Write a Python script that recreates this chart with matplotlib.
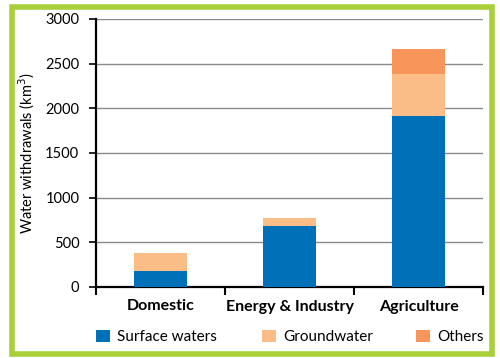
import matplotlib.pyplot as plt
import numpy as np
from matplotlib.patches import Rectangle

plt.rcParams['font.family'] = ['Lato', 'DejaVu Sans']

# data
categories = ['Domestic', 'Energy & Industry', 'Agriculture']
surface = [180, 680, 1910]
ground = [200, 90, 470]
others = [0, 0, 280]
series_names = ['Surface waters', 'Groundwater', 'Others']
colors = ['#0071b9', '#fbbd87', '#f7955b']

fig = plt.figure(figsize=(5, 3.58), dpi=100)
ax = fig.add_axes([96 / 500, 1 - 287 / 358, 387 / 500, 268 / 358])

x = np.arange(len(categories))
w = 0.41
surface = np.array(surface)
ground = np.array(ground)
others = np.array(others)

b1 = ax.bar(x, surface, width=w, color=colors[0], zorder=3)
b2 = ax.bar(x, ground, width=w, bottom=surface, color=colors[1], zorder=3)
b3 = ax.bar(x, others, width=w, bottom=surface + ground, color=colors[2], zorder=3)

ax.set_xlim(-0.5, 2.5)
ax.set_ylim(0, 3000)
ax.set_yticks(np.arange(0, 3001, 500))
ax.yaxis.grid(True, color='#8a8a8a', linewidth=1.0, zorder=0)
ax.set_axisbelow(True)

# category ticks at boundaries
ax.set_xticks([-0.5, 0.5, 1.5, 2.5])
ax.set_xticklabels([])
ax.set_xticks(x, minor=True)
ax.set_xticklabels(categories, minor=True, fontweight='bold', fontsize=11.5)
ax.tick_params(axis='x', which='minor', length=0, pad=9)
ax.tick_params(axis='x', which='major', length=6, width=1.5, direction='out')
ax.tick_params(axis='y', length=5, width=1.2, labelsize=10.5, pad=7)

for s in ['top', 'right']:
    ax.spines[s].set_visible(False)
ax.spines['left'].set_linewidth(1.6)
ax.spines['bottom'].set_linewidth(1.6)

ax.set_ylabel('Water withdrawals (km$^3$)', fontsize=10.5)
ax.yaxis.set_label_coords(-0.153, 0.5)

# legend: one entry per box so each sits where the reference has it
for bars, name, xpos in zip([b1, b2, b3], series_names, [96, 262, 416]):
    lg = fig.legend([bars], [name], loc='center left',
                    bbox_to_anchor=(xpos / 500, 1 - 337 / 358),
                    frameon=False, fontsize=11, handlelength=0.9, handleheight=0.9,
                    handletextpad=0.5, borderpad=0, borderaxespad=0)

# green frame
fig.patches.append(Rectangle((12 / 500, 4 / 358), 480 / 500, 351 / 358 - 4 / 358,
                             transform=fig.transFigure, fill=False,
                             edgecolor='#a9cf3a', linewidth=4))

fig.savefig('out.png', dpi=100)
